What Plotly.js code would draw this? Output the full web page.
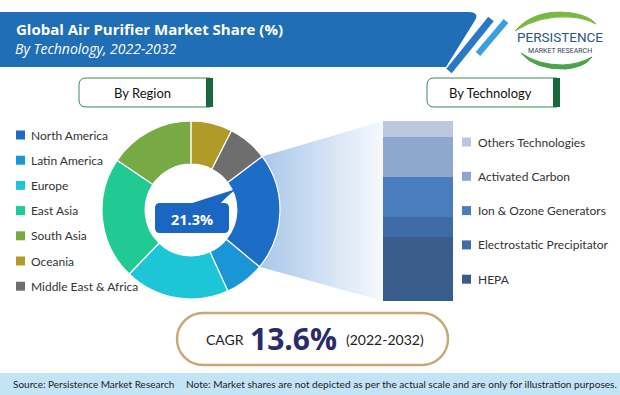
<!DOCTYPE html>
<html>
<head>
<meta charset="utf-8">
<script src="https://cdn.plot.ly/plotly-3.0.1.min.js"></script>
<style>html,body{margin:0;padding:0;background:#fff;}#chart{width:620px;height:395px;}</style>
</head>
<body>
<div id="chart"></div>
<script>
// ---------- data ----------
const regions = ['North America','Latin America','Europe','East Asia','South Asia','Oceania','Middle East & Africa'];
const regionShare = [21.3, 7.2, 19.0, 22.2, 15.6, 7.5, 7.2];
const regionColors = ['#1d6cc5','#1a96d7','#1dc6d6','#21c993','#77a944','#b09b29','#6e6e6e'];

const techs = ['Others Technologies','Activated Carbon','Ion & Ozone Generators','Electrostatic Precipitator','HEPA'];
const techShare = [9.1, 21.9, 22.6, 10.7, 35.7];
const techColors = ['#bcc8de','#8ea7cd','#4a7dbe','#3f6ca6','#395c8c'];

const titleText = 'Global Air Purifier Market Share (%)';
const subtitleText = 'By Technology, 2022-2032';
const highlightLabel = '21.3%';
const cagrValue = '13.6%';
const cagrPeriod = '(2022-2032)';
const sourceText = 'Source: Persistence Market Research';
const noteText = 'Note: Market shares are not depicted as per the actual scale and are only for illustration purposes.';

// ---------- layout geometry ----------
const W = 620, H = 395;
const cx = 191, cy = 210, R = 89;            // donut
const barX0 = 383, barX1 = 453, barY0 = 121, barY1 = 301; // stacked bar box
const startAngle = 53;                         // first slice start (deg clockwise from 12 o'clock)

const FONT = 'Lato, "Open Sans", sans-serif';
const TXT = '#333333';

function rr(x0,y0,x1,y1,r){
  return `M${x0+r},${y0} L${x1-r},${y0} Q${x1},${y0} ${x1},${y0+r} L${x1},${y1-r} Q${x1},${y1} ${x1-r},${y1} L${x0+r},${y1} Q${x0},${y1} ${x0},${y1-r} L${x0},${y0+r} Q${x0},${y0} ${x0+r},${y0} Z`;
}
function pill(x0,y0,x1,y1){
  const r=(y1-y0)/2, k=0.5523*r;
  return `M${x0+r},${y0} L${x1-r},${y0} C${x1-r+k},${y0} ${x1},${y0+r-k} ${x1},${y0+r} C${x1},${y0+r+k} ${x1-r+k},${y1} ${x1-r},${y1} L${x0+r},${y1} C${x0+r-k},${y1} ${x0},${y0+r+k} ${x0},${y0+r} C${x0},${y0+r-k} ${x0+r-k},${y0} ${x0+r},${y0} Z`;
}
function leftRounded(x0,y0,x1,y1,r){
  return `M${x0+r},${y0} L${x1},${y0} L${x1},${y1} L${x0+r},${y1} Q${x0},${y1} ${x0},${y1-r} L${x0},${y0+r} Q${x0},${y0} ${x0+r},${y0} Z`;
}

// trapezoid linking the highlighted slice to the bar
const a0 = startAngle*Math.PI/180;
const a1 = (startAngle + regionShare[0]/regionShare.reduce((a,b)=>a+b,0)*360)*Math.PI/180;
const p0 = [cx + R*Math.sin(a0), cy - R*Math.cos(a0)];
const p1 = [cx + R*Math.sin(a1), cy - R*Math.cos(a1)];

const traces = [];
traces.push({
  type:'scatter', mode:'lines', x:[p0[0], barX0, barX0, p1[0], p0[0]], y:[p0[1], barY0, barY1, p1[1], p0[1]],
  fill:'toself', line:{width:0, color:'rgba(0,0,0,0)'},
  fillgradient:{type:'horizontal', colorscale:[[0,'#a9c7ea'],[1,'#f6f9fd']]},
  hoverinfo:'skip', showlegend:false, xaxis:'x', yaxis:'y'
});

// stacked bar (bottom-up)
for(let i=techs.length-1;i>=0;i--){
  traces.push({type:'bar', x:[0], y:[techShare[i]], width:1, name:techs[i],
    marker:{color:techColors[i], line:{width:0}}, xaxis:'x2', yaxis:'y2', showlegend:false, hoverinfo:'skip'});
}

// donut
traces.push({
  type:'pie', labels:regions, values:regionShare, sort:false, direction:'clockwise', rotation:startAngle,
  hole:0.515, textinfo:'none', hoverinfo:'skip', showlegend:false,
  marker:{colors:regionColors, line:{color:'#ffffff', width:1.2}},
  domain:{x:[(cx-R)/W,(cx+R)/W], y:[1-(cy+R)/H, 1-(cy-R)/H]}
});

// ---------- shapes ----------
const shapes = [];
const S = (o)=>shapes.push(Object.assign({xref:'x', yref:'y', layer:'above'}, o));
// header band
S({type:'path', path:'M0,12 L468,12 Q481,12 474,22 L446,67 L0,67 Z', fillcolor:'#1f6eb6', line:{width:0}, layer:'below'});
S({type:'line', x0:449, y0:71, x1:491, y1:19, line:{color:'#2a78c4', width:7}});
S({type:'line', x0:478, y0:54, x1:506, y1:21, line:{color:'#3a9fe0', width:6}});
// logo swooshes
S({type:'path', path:'M515,31 Q535,8 572,13 Q590,16 596,24 Q585,18 570,17 Q540,15 515,31 Z', fillcolor:'#78b943', line:{color:'#78b943', width:1}});
S({type:'path', path:'M521,53 Q535,70 566,69 Q585,67 592,57 Q580,64 563,65 Q538,65 521,53 Z', fillcolor:'#4aa54a', line:{color:'#4aa54a', width:1}});
// section tabs
S({type:'path', path:leftRounded(79,78,210,107,7), fillcolor:'#ffffff', line:{color:'#3f8760', width:1}});
S({type:'rect', x0:206, x1:213, y0:78, y1:107, fillcolor:'#17683e', line:{width:0}});
S({type:'path', path:leftRounded(427,78,557,107,7), fillcolor:'#ffffff', line:{color:'#3f8760', width:1}});
S({type:'rect', x0:553, x1:560, y0:78, y1:107, fillcolor:'#17683e', line:{width:0}});
// highlight bubble
S({type:'path', path:rr(155,203,229,233,5), fillcolor:'#1a66c2', line:{width:0}});
S({type:'path', path:'M186,205 Q208,198 236,189 Q226,197 219,205 Z', fillcolor:'#1a66c2', line:{width:0}});
// CAGR pill
S({type:'path', path:pill(177,313,448,365), fillcolor:'#ffffff', line:{color:'#c9a878', width:2.5}});
// footer
S({type:'rect', x0:0, x1:W, y0:373, y1:H, fillcolor:'#c3e4f4', line:{width:0}, layer:'below'});
// legends
regions.forEach((r,i)=>{
  const y = 135 + i*25.2;
  S({type:'rect', x0:16, x1:25, y0:y-4.5, y1:y+4.5, fillcolor:regionColors[i], line:{width:0}});
});
techs.forEach((t,i)=>{
  const y = 142 + i*34.3;
  S({type:'rect', x0:462, x1:471, y0:y-4.5, y1:y+4.5, fillcolor:techColors[i], line:{width:0}});
});

// ---------- annotations ----------
const ann = [];
const A = (o)=>ann.push(Object.assign({xref:'x', yref:'y', showarrow:false, xanchor:'left', yanchor:'middle'}, o));
A({x:14, y:29, text:'<b>'+titleText+'</b>', font:{family:'"Open Sans", sans-serif', size:15, color:'#ffffff'}});
A({x:13, y:48, text:'<i>'+subtitleText+'</i>', font:{family:'"Open Sans", sans-serif', size:14, color:'#ffffff'}});
A({x:560, y:37, xanchor:'center', text:'PERSISTENCE', font:{family:'Roboto, sans-serif', size:13.5, color:'#2d5583'}});
A({x:560, y:50.5, xanchor:'center', text:'MARKET RESEARCH', font:{family:'Roboto, sans-serif', size:7, color:'#2b3f5f'}});
A({x:142, y:92.5, xanchor:'center', text:'By Region', font:{family:FONT, size:13, color:'#111'}});
A({x:490, y:92.5, xanchor:'center', text:'By Technology', font:{family:FONT, size:13, color:'#111'}});
A({x:192, y:219, xanchor:'center', text:'<b>'+highlightLabel+'</b>', font:{family:'"Open Sans", sans-serif', size:14.5, color:'#ffffff'}});
regions.forEach((r,i)=>A({x:29, y:135+i*25.2, text:r, font:{family:FONT, size:12, color:TXT}}));
techs.forEach((t,i)=>A({x:476, y:142+i*34.3, text:t, font:{family:FONT, size:12, color:TXT}}));
A({x:204, y:339, text:'CAGR', font:{family:FONT, size:14, color:'#222'}});
A({x:248, y:338, text:'<b>'+cagrValue+'</b>', font:{family:'"Open Sans", sans-serif', size:30, color:'#2b2a6b'}});
A({x:344, y:339, text:cagrPeriod, font:{family:FONT, size:14, color:'#222'}});
A({x:11, y:384, text:sourceText, font:{family:FONT, size:10, color:'#222'}});
A({x:184, y:383.5, text:noteText, font:{family:FONT, size:10.1, color:'#222'}});

const layout = {
  width:W, height:H, margin:{l:0,r:0,t:0,b:0}, paper_bgcolor:'#ffffff', plot_bgcolor:'rgba(0,0,0,0)',
  showlegend:false, barmode:'stack', bargap:0,
  xaxis:{domain:[0,1], range:[0,W], visible:false, fixedrange:true},
  yaxis:{domain:[0,1], range:[H,0], visible:false, fixedrange:true},
  xaxis2:{domain:[barX0/W, barX1/W], range:[-0.5,0.5], visible:false, anchor:'y2', fixedrange:true},
  yaxis2:{domain:[1-barY1/H, 1-barY0/H], range:[0,100], visible:false, anchor:'x2', fixedrange:true},
  shapes:shapes, annotations:ann
};
Plotly.newPlot('chart', traces, layout, {staticPlot:true, displayModeBar:false});
</script>
</body>
</html>
